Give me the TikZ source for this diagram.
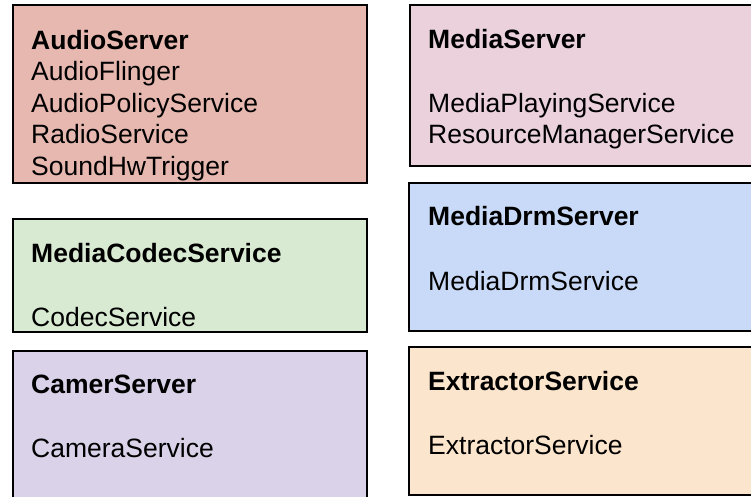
\documentclass[tikz,border=0pt]{standalone}
\usepackage{fontspec}
\setmainfont{Liberation Sans}
\definecolor{cAudio}{HTML}{E6B8AF}
\definecolor{cMedia}{HTML}{EAD1DC}
\definecolor{cCodec}{HTML}{D9EAD3}
\definecolor{cCam}{HTML}{D9D2E9}
\definecolor{cDrm}{HTML}{C9DAF8}
\definecolor{cExt}{HTML}{FCE5CD}
\tikzset{
  box/.style={draw=black, line width=2pt, inner sep=0pt, anchor=north west},
  txt/.style={anchor=base west, inner sep=0pt, font=\fontsize{26.5}{30}\selectfont},
  ttl/.style={txt, font=\fontsize{26.5}{30}\selectfont\bfseries}
}
\begin{document}
\begin{tikzpicture}[x=1pt, y=-1pt]
\useasboundingbox (0,0) rectangle (751,496);
\clip (0,0) rectangle (751,496);
\node[box, fill=cAudio, minimum width=354pt, minimum height=178pt] (audio) at (12,4) {};
\node[box, fill=cMedia, minimum width=360pt, minimum height=161pt] (media) at (409,4) {};
\node[box, fill=cDrm, minimum width=360pt, minimum height=148pt] (drm) at (408,182) {};
\node[box, fill=cExt, minimum width=360pt, minimum height=148pt] (ext) at (408,346) {};
\node[box, fill=cCodec, minimum width=354pt, minimum height=113pt] (codec) at (12,218) {};
\node[box, fill=cCam, minimum width=354pt, minimum height=170pt] (cam) at (12,350) {};
% left column texts
\node[ttl] (t1) at (31,49) {AudioServer};
\node[txt] (t2) at (31,80) {AudioFlinger};
\node[txt] (t3) at (31,112) {AudioPolicyService};
\node[txt] (t4) at (31,143) {RadioService};
\node[txt] (t5) at (31,175) {SoundHwTrigger};
\node[ttl] (t6) at (31,262) {MediaCodecService};
\node[txt] (t7) at (31,326) {CodecService};
\node[ttl] (t8) at (31,393) {CamerServer};
\node[txt] (t9) at (31,457) {CameraService};
% right column texts
\node[ttl] (r1) at (428,48) {MediaServer};
\node[txt] (r2) at (428,112) {MediaPlayingService};
\node[txt] (r3) at (428,143) {ResourceManagerService};
\node[ttl] (r4) at (428,225) {MediaDrmServer};
\node[txt] (r5) at (428,290) {MediaDrmService};
\node[ttl] (r6) at (428,390) {ExtractorService};
\node[txt] (r7) at (428,454) {ExtractorService};
\end{tikzpicture}
\end{document}
